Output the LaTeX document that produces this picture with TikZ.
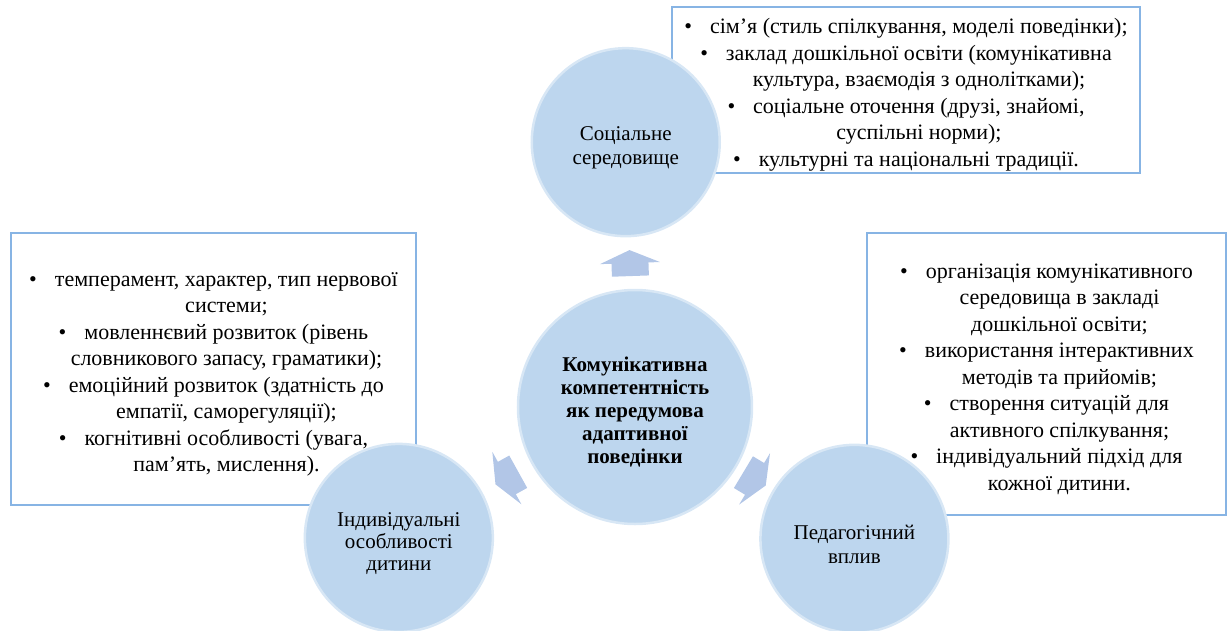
\documentclass[tikz,border=0pt]{standalone}
\usepackage{fontspec}
\setmainfont{Liberation Serif}
\usetikzlibrary{calc}
\definecolor{circfill}{RGB}{189,214,238}
\definecolor{circrim}{RGB}{216,231,245}
\definecolor{arrfill}{RGB}{178,198,231}
\definecolor{boxline}{RGB}{135,180,228}
\newcommand\bul{\textbullet\hspace{18pt}}
\newcommand\cont{\hspace*{26pt}}
\newcommand\up{\rule{0pt}{25pt}}
\tikzset{
  circ/.style={circle, fill=circfill, draw=circrim, line width=2.5pt, inner sep=0pt,
    minimum size=188pt, align=center, font=\fontsize{21}{23.5}\selectfont},
  hubcirc/.style={circ, minimum size=234pt, font=\fontsize{21}{23}\selectfont\bfseries},
  listbox/.style={draw=boxline, line width=1.5pt, fill=white, inner sep=0pt,
    align=center, font=\fontsize{22}{26.5}\selectfont},
  blockarrow/.style={fill=arrfill}
}
\begin{document}
\begin{tikzpicture}[x=1pt, y=1pt]
  \useasboundingbox (-635,-223) rectangle (592,407);
  \node[listbox, minimum width=468pt, minimum height=166pt] (socbox) at (271,317)
    {\up\bul сім’я (стиль спілкування, моделі поведінки);\\
     \bul заклад дошкільної освіти (комунікативна\\
     \cont культура, взаємодія з однолітками);\\
     \bul соціальне оточення (друзі, знайомі,\\
     \cont суспільні норми);\\
     \bul культурні та національні традиції.};
  \node[listbox, minimum width=405pt, minimum height=272pt] (indbox) at (-421.5,38)
    {\up\bul темперамент, характер, тип нервової\\
     \cont системи;\\
     \bul мовленнєвий розвиток (рівень\\
     \cont словникового запасу, граматики);\\
     \bul емоційний розвиток (здатність до\\
     \cont емпатії, саморегуляції);\\
     \bul когнітивні особливості (увага,\\
     \cont пам’ять, мислення).};
  \node[listbox, minimum width=359pt, minimum height=282pt] (pedbox) at (411.5,33)
    {\up\bul організація комунікативного\\
     \cont середовища в закладі\\
     \cont дошкільної освіти;\\
     \bul використання інтерактивних\\
     \cont методів та прийомів;\\
     \bul створення ситуацій для\\
     \cont активного спілкування;\\
     \bul індивідуальний підхід для\\
     \cont кожної дитини.};
  \draw
    (0,0) node[hubcirc] (hub) {\up Комунікативна\\компетентність\\як передумова\\адаптивної\\поведінки}
    (92:265) node[circ] (soc) {\up Соціальне\\середовище}
    (209:270) node[circ, font=\fontsize{21}{22}\selectfont] (ind) {\up Індивідуальні\\особливості\\дитини}
    (329:256) node[circ] (ped) {\up Педагогічний\\вплив};
  \foreach \n/\s/\e in {soc/92/272, ind/209/29, ped/329/149}
    \fill[blockarrow, shift={($(hub.\s)!.5!(\n.\e)$)}, rotate=\s]
      (-13,-18.5) -- (0,-18.5) -- (0,-30) -- (13,0) -- (0,30) -- (0,18.5) -- (-13,18.5) -- cycle;
\end{tikzpicture}
\end{document}
